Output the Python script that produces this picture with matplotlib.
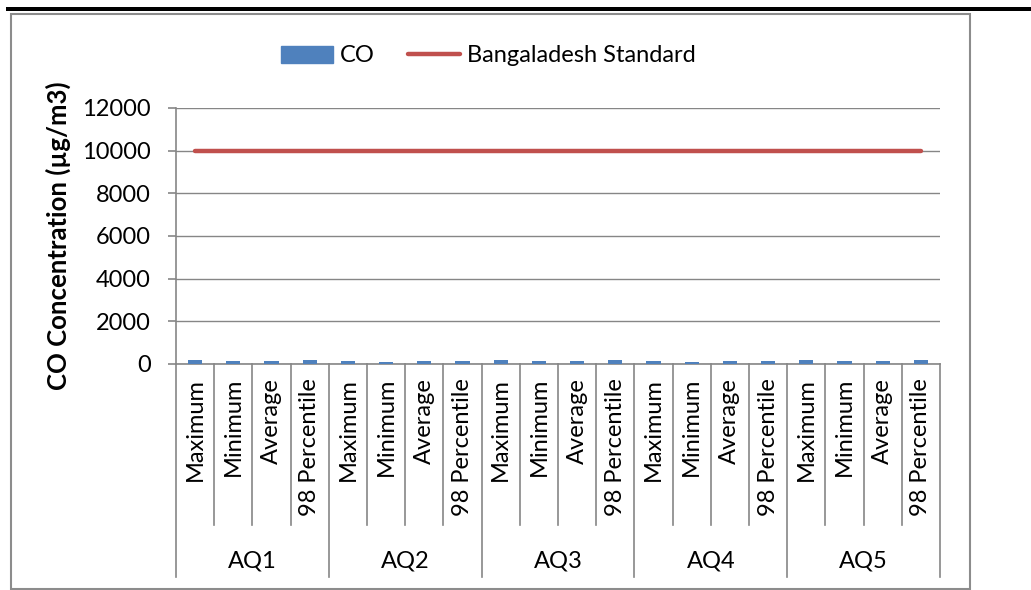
import matplotlib
matplotlib.use("Agg")
import matplotlib.pyplot as plt
from matplotlib.patches import Rectangle
from matplotlib.lines import Line2D
import matplotlib.transforms as mtransforms
import numpy as np

plt.rcParams['font.family'] = ['Lato', 'DejaVu Sans']

stations = ["AQ1", "AQ2", "AQ3", "AQ4", "AQ5"]
stats = ["Maximum", "Minimum", "Average", "98 Percentile"]
co_values = [170, 130, 150, 175,
             140, 100, 120, 140,
             180, 120, 150, 180,
             150, 110, 130, 145,
             175, 130, 155, 175]
standard = 10000
yticks = [0, 2000, 4000, 6000, 8000, 10000, 12000]

FS = 17
W, H = 1031, 590
fig = plt.figure(figsize=(W / 100, H / 100), dpi=100)

# outer decorations
fig.patches.append(Rectangle((6 / W, 1 - 11 / H), (W - 6) / W, 4 / H,
                             transform=fig.transFigure, facecolor='black',
                             edgecolor='none', zorder=0))
fig.patches.append(Rectangle((10.5 / W, 1 - 589 / H), (970 - 10.5) / W, (589 - 13.5) / H,
                             transform=fig.transFigure, facecolor='none',
                             edgecolor='#8c8c8c', lw=1.5, zorder=0))

ax = fig.add_axes([176 / W, 1 - 364 / H, (940 - 176) / W, (364 - 108) / H])

labels = [s for _ in stations for s in stats]
x = np.arange(len(labels))
ax.bar(x, co_values, width=0.37, color='#4F81BD', zorder=3, label='CO')
ax.plot(x, [standard] * len(x), color='#C0504D', lw=3.2, solid_capstyle='round',
        zorder=4, label='Bangaladesh Standard')

ax.set_xlim(-0.5, len(x) - 0.5)
ax.set_ylim(0, 12000)
ax.set_yticks(yticks)
ax.set_yticklabels([str(v) for v in yticks], fontsize=FS)
ax.yaxis.grid(True, color='#868686', lw=1)
ax.set_axisbelow(True)
for s in ['top', 'right']:
    ax.spines[s].set_visible(False)
ax.spines['left'].set_color('#868686')
ax.spines['bottom'].set_color('#868686')
ax.spines['left'].set_linewidth(1.2)
ax.spines['bottom'].set_linewidth(1.2)
ax.tick_params(axis='y', length=6, color='#868686', width=1.2, pad=12)

ax.set_xticks(x)
ax.set_xticklabels(labels, rotation=90, fontsize=FS, va='top', ha='center')
ax.tick_params(axis='x', length=0, pad=10)

ax.set_ylabel('CO Concentration (µg/m3)', fontsize=18.5, fontweight='bold')
ax.yaxis.set_label_coords(-0.137, 0.5)

trans = mtransforms.blended_transform_factory(ax.transData, ax.transAxes)
n_stats = len(stats)
for i in range(len(x) + 1):
    xb = i - 0.5
    if i % n_stats == 0:
        y_end = -0.832
    else:
        y_end = -0.629
    ax.plot([xb, xb], [0, y_end], transform=trans, color='#868686', lw=1.2,
            clip_on=False)
for g, name in enumerate(stations):
    xc = g * n_stats + (n_stats - 1) / 2
    ax.text(xc, -0.770, name, transform=trans, ha='center', va='center', fontsize=FS)

handles = [Rectangle((0, 0), 1, 1, color='#4F81BD'),
           Line2D([0], [0], color='#C0504D', lw=3.2, solid_capstyle='round')]
fig.legend(handles, ['CO', 'Bangaladesh Standard'], loc='center',
           bbox_to_anchor=(488 / W, 1 - 56 / H), ncol=2, frameon=False,
           fontsize=FS, handlelength=2.2, handletextpad=0.3, columnspacing=1.4)

fig.savefig('out.png', dpi=100)
